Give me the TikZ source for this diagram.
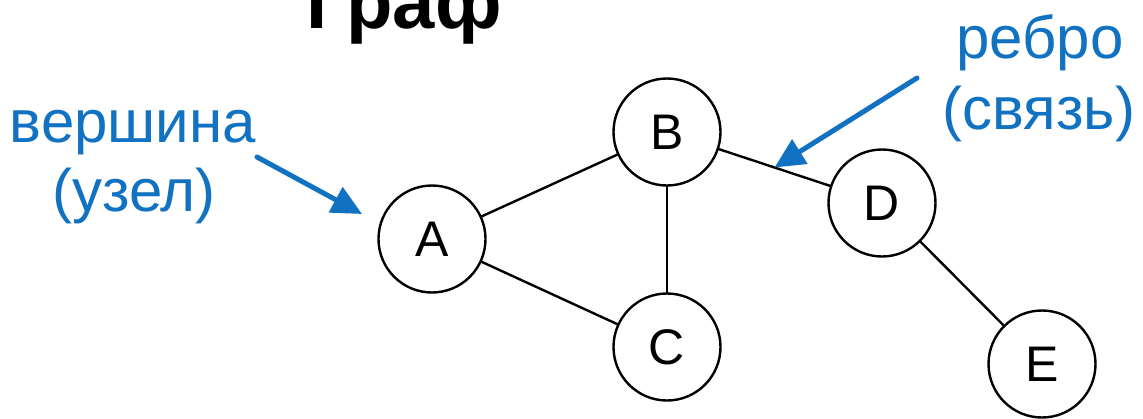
\documentclass[tikz,border=0pt]{standalone}
\usepackage{fontspec}
\setmainfont{Liberation Sans}
\usetikzlibrary{arrows.meta,calc}
\definecolor{lblue}{RGB}{18,114,194}
\begin{document}
\begin{tikzpicture}[x=1pt,y=-1pt,
  vertex/.style={circle,draw=black,line width=2.4pt,fill=white,minimum size=107pt,inner sep=0pt,font=\fontsize{50}{50}\selectfont},
  edge/.style={line width=2.4pt,black},
  pointer/.style={lblue,line width=5pt,line cap=round,-{Triangle[length=30pt,width=28pt]}},
  note/.style={lblue,anchor=base,font=\fontsize{60}{60}\selectfont},
  heading/.style={anchor=base,font=\bfseries\fontsize{76}{76}\selectfont}]
\clip (0,0) rectangle (1143,418);
\fill[white] (0,0) rectangle (1143,418);
% title
\node[heading] (title) at (404,28) {Граф};
% edges first, nodes on top
\coordinate (cA) at (432,239);
\coordinate (cB) at (667,132);
\coordinate (cC) at (667,347);
\coordinate (cD) at (882,203);
\coordinate (cE) at (1042,364);
\draw[edge] (cA) -- (cB);
\draw[edge] (cA) -- (cC);
\draw[edge] (cB) -- (cC);
\draw[edge] (cB) -- (cD);
\draw[edge] (cD) -- (cE);
\node[vertex] (A) at (cA) {A};
\node[vertex] (B) at (cB) {B};
\node[vertex] (C) at (cC) {C};
\node[vertex] (D) at (cD) {D};
\node[vertex] (E) at (cE) {E};
% labels
\node[note] (v1) at (133,142) {вершина};
\node[note] (v2) at (134,211) {(узел)};
\node[note] (r1) at (1040,58) {ребро};
\node[note] (r2) at (1039,129) {(связь)};
% pointers
\coordinate (p1s) at (257,157);
\coordinate (p1e) at (362,214);
\draw[pointer] (p1s) -- (p1e);
\coordinate (p2s) at (917,78);
\coordinate (p2e) at ($(cB)!0.5!(cD)$);
\draw[pointer] (p2s) -- (p2e);
\end{tikzpicture}
\end{document}
